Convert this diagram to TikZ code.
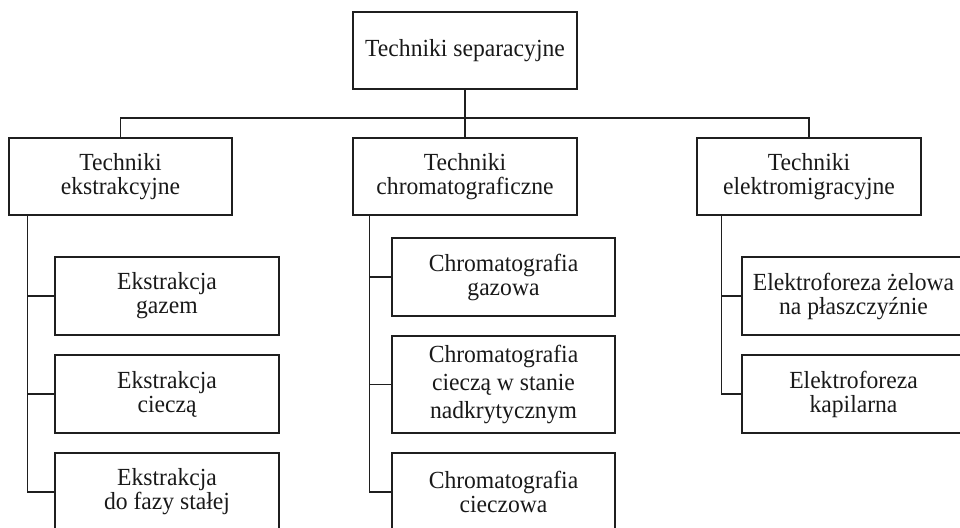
\documentclass[tikz,border=0pt]{standalone}
\usepackage{fontspec}
\setmainfont[FakeStretch=0.96]{Liberation Serif}
\begin{document}
\begin{tikzpicture}[x=1pt,y=-1pt,
  ink/.style={draw=black!88, line width=1.3pt},
  box/.style={ink, rectangle, inner sep=0pt, align=center, text=black!90,
    font=\fontsize{24.6}{24}\selectfont, minimum width=224pt, minimum height=77pt},
  link/.style={ink, line join=miter}]
\useasboundingbox (0,0) rectangle (960,527);
\clip (0,0) rectangle (960,527);

% top level
\node[box] (root) at (465,50.5) {Techniki separacyjne};

% second level
\node[box, minimum width=223pt, font=\fontsize{24.6}{23.3}\selectfont] (ext) at (120.5,176.5) {Techniki\\ekstrakcyjne};
\node[box, font=\fontsize{24.6}{23.3}\selectfont] (chr) at (465,176.5) {Techniki\\chromatograficzne};
\node[box, font=\fontsize{24.6}{23.3}\selectfont] (ele) at (809,176.5) {Techniki\\elektromigracyjne};

% extraction techniques
\node[box, minimum height=78pt] (exg) at (167,296) {Ekstrakcja\\gazem};
\node[box, minimum height=78pt] (exc) at (167,394) {Ekstrakcja\\cieczą};
\node[box, minimum height=78pt] (exs) at (167,492) {Ekstrakcja\\do fazy stałej};

% chromatographic techniques
\node[box, minimum width=223pt, minimum height=78pt] (chg) at (503.5,277) {Chromatografia\\gazowa};
\node[box, minimum width=223pt, minimum height=97pt, font=\fontsize{24.6}{28}\selectfont] (chn) at (503.5,384.5) {Chromatografia\\cieczą w stanie\\nadkrytycznym};
\node[box, minimum width=223pt, minimum height=78pt] (chc) at (503.5,492) {Chromatografia\\cieczowa};

% electromigration techniques
\node[box, minimum width=223pt, minimum height=78pt] (elz) at (853.5,296) {Elektroforeza żelowa\\na płaszczyźnie};
\node[box, minimum width=223pt, minimum height=78pt] (elk) at (853.5,394) {Elektroforeza\\kapilarna};

% connectors between levels
\coordinate (bus) at (465,118);
\draw[link] (root.south) -- (chr.north);
\draw[link] (ext.north) |- (bus) -| (ele.north);

% branch trunks
\draw[link] ([xshift=19pt]ext.south west) |- (exs.west);
\draw[link] ([xshift=19pt]ext.south west |- exg.west) -- (exg.west);
\draw[link] ([xshift=19pt]ext.south west |- exc.west) -- (exc.west);

\draw[link] ([xshift=17pt]chr.south west) |- (chc.west);
\draw[link] ([xshift=17pt]chr.south west |- chg.west) -- (chg.west);
\draw[link] ([xshift=17pt]chr.south west |- chn.west) -- (chn.west);

\draw[link] ([xshift=25pt]ele.south west) |- (elk.west);
\draw[link] ([xshift=25pt]ele.south west |- elz.west) -- (elz.west);
\end{tikzpicture}
\end{document}
